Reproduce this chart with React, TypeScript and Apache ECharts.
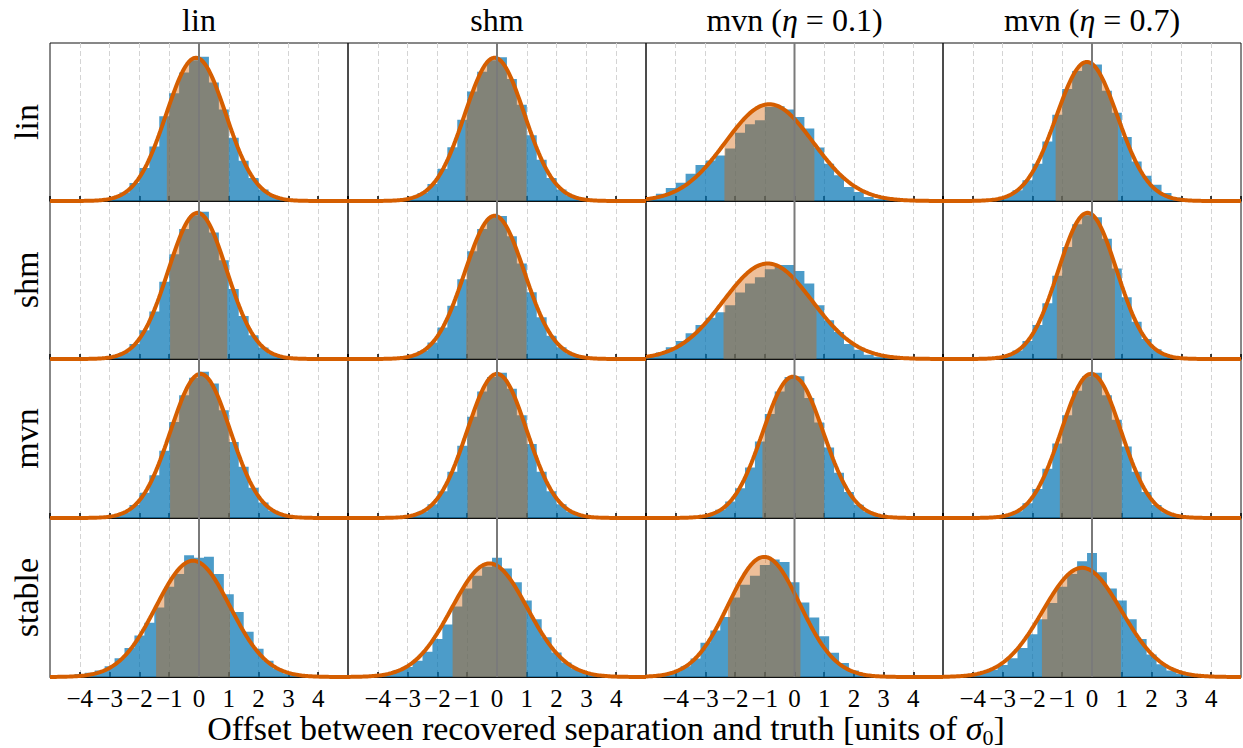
import React, { useEffect, useRef } from "react";
import * as echarts from "echarts";

// ---------- data ----------
const rowNames = ["lin", "shm", "mvn", "stable"];
const colNames = ["lin", "shm", "mvn ({i|η}\u2005=\u20050.1)", "mvn ({i|η}\u2005=\u20050.7)"];
const binWidth = 1 / 3;
const binStart = [
  [-5, -5, -5, -5],
  [-5, -5, -5, -5],
  [-5, -5, -5, -5],
  [-31 / 6, -31 / 6, -31 / 6, -31 / 6],
];
// fitted normal curve per panel
const fitMu = [
  [-0.1, -0.08, -0.85, -0.17],
  [-0.05, -0.08, -0.9, -0.15],
  [0.05, 0.0, -0.05, -0.03],
  [-0.2, -0.25, -1.02, -0.33],
];
const fitSigma = [
  [1.0, 1.0, 1.48, 1.03],
  [0.98, 1.0, 1.5, 0.98],
  [1.0, 1.0, 1.02, 1.0],
  [1.24, 1.27, 1.2, 1.32],
];
// shaded interval per panel
const bandLo = [
  [-1.08, -1.06, -2.36, -1.22],
  [-0.97, -1.03, -2.39, -1.18],
  [-0.97, -0.99, -1.08, -1.08],
  [-1.44, -1.49, -2.24, -1.68],
];
const bandHi = [
  [1.0, 0.99, 0.67, 0.87],
  [0.95, 0.99, 0.74, 0.77],
  [1.04, 1.03, 1.0, 1.0],
  [1.04, 0.99, 0.2, 0.97],
];

// histogram densities
const histLinLin = [0,0,0,0.001,0.002,0.004,0.011,0.024,0.05,0.092,0.152,0.236,0.300,0.358,0.392,0.402,0.330,0.255,0.176,0.112,0.064,0.032,0.014,0.006,0.002,0.001,0,0,0,0];
const histLinShm = [0,0,0,0.001,0.002,0.004,0.010,0.022,0.047,0.090,0.150,0.226,0.305,0.360,0.392,0.400,0.340,0.268,0.183,0.115,0.064,0.032,0.015,0.006,0.002,0.001,0,0,0,0];
const histLinMvn1 = [0.0065,0.020,0.036,0.051,0.076,0.100,0.113,0.127,0.146,0.190,0.214,0.225,0.262,0.264,0.255,0.234,0.202,0.149,0.104,0.072,0.039,0.025,0.011,0.0056,0.003,0.001,0,0,0,0];
const histLinMvn7 = [0,0,0,0.001,0.002,0.006,0.014,0.030,0.058,0.104,0.166,0.240,0.312,0.362,0.390,0.380,0.307,0.246,0.178,0.110,0.070,0.045,0.022,0.010,0.004,0.001,0,0,0,0];
const histShmLin = [0,0,0,0,0.001,0.003,0.008,0.019,0.042,0.080,0.132,0.215,0.292,0.362,0.400,0.410,0.352,0.275,0.195,0.120,0.066,0.032,0.014,0.006,0.002,0.001,0,0,0,0];
const histShmShm = [0,0,0,0.001,0.002,0.004,0.010,0.022,0.046,0.088,0.148,0.222,0.300,0.362,0.395,0.398,0.342,0.266,0.186,0.116,0.065,0.033,0.015,0.006,0.002,0.001,0,0,0,0];
const histShmMvn1 = [0.006,0.018,0.033,0.050,0.072,0.095,0.115,0.130,0.150,0.185,0.210,0.228,0.250,0.262,0.262,0.245,0.210,0.150,0.108,0.075,0.042,0.026,0.012,0.006,0.003,0.001,0,0,0,0];
const histShmMvn7 = [0,0,0,0.001,0.002,0.004,0.010,0.024,0.050,0.095,0.155,0.232,0.312,0.375,0.400,0.395,0.335,0.252,0.172,0.104,0.056,0.027,0.011,0.004,0.002,0.001,0,0,0,0];
const histMvnLin = [0,0,0,0,0.001,0.002,0.007,0.016,0.036,0.070,0.118,0.186,0.266,0.340,0.388,0.405,0.372,0.298,0.210,0.142,0.084,0.043,0.020,0.008,0.003,0.001,0,0,0,0];
const histMvnShm = [0,0,0,0,0.001,0.003,0.008,0.018,0.038,0.074,0.128,0.200,0.280,0.350,0.390,0.402,0.358,0.284,0.205,0.128,0.074,0.038,0.017,0.007,0.003,0.001,0,0,0,0];
const histMvnMvn1 = [0,0,0,0,0.001,0.004,0.010,0.023,0.046,0.082,0.140,0.212,0.288,0.350,0.390,0.392,0.332,0.264,0.195,0.125,0.072,0.037,0.017,0.007,0.003,0.001,0,0,0,0];
const histMvnMvn7 = [0,0,0,0,0.001,0.003,0.008,0.019,0.041,0.080,0.136,0.206,0.284,0.352,0.392,0.402,0.340,0.272,0.198,0.128,0.072,0.036,0.016,0.007,0.002,0.001,0,0,0,0];
const histStableLin = [0,0.002,0.005,0.008,0.012,0.018,0.030,0.052,0.080,0.115,0.150,0.192,0.250,0.285,0.337,0.330,0.333,0.285,0.229,0.180,0.125,0.078,0.045,0.022,0.010,0.005,0.002,0.001,0,0,0];
const histStableShm = [0,0.002,0.004,0.007,0.011,0.018,0.028,0.045,0.070,0.105,0.145,0.195,0.245,0.280,0.305,0.330,0.300,0.262,0.212,0.160,0.110,0.068,0.040,0.022,0.011,0.005,0.002,0.001,0,0,0];
const histStableMvn1 = [0.002,0.004,0.008,0.016,0.030,0.051,0.095,0.129,0.166,0.220,0.255,0.280,0.310,0.325,0.318,0.262,0.206,0.165,0.113,0.067,0.039,0.018,0.008,0.003,0.001,0,0,0,0,0,0];
const histStableMvn7 = [0,0.002,0.004,0.007,0.012,0.020,0.033,0.052,0.080,0.118,0.160,0.205,0.250,0.285,0.320,0.343,0.290,0.245,0.212,0.160,0.105,0.062,0.035,0.018,0.009,0.004,0.002,0.001,0,0,0];

const hists = [
  [histLinLin, histLinShm, histLinMvn1, histLinMvn7],
  [histShmLin, histShmShm, histShmMvn1, histShmMvn7],
  [histMvnLin, histMvnShm, histMvnMvn1, histMvnMvn7],
  [histStableLin, histStableShm, histStableMvn1, histStableMvn7],
];

const X_MIN = -5;
const X_MAX = 5;
const Y_MAX = 0.44;

// ---------- layout ----------
const FONT = "'Liberation Serif', 'Times New Roman', serif";
const COL_EDGES = [50, 348, 646, 943, 1241];
const ROW_EDGES = [43, 201, 359, 518, 677];

function normalPdf(x: number, mu: number, s: number) {
  return Math.exp(-((x - mu) * (x - mu)) / (2 * s * s)) / (s * Math.sqrt(2 * Math.PI));
}

function buildOption() {
  const grid: any[] = [];
  const xAxis: any[] = [];
  const yAxis: any[] = [];
  const series: any[] = [];
  for (let r = 0; r < 4; r++) {
    for (let c = 0; c < 4; c++) {
      const i = r * 4 + c;
      grid.push({
        left: COL_EDGES[c],
        top: ROW_EDGES[r],
        width: COL_EDGES[c + 1] - COL_EDGES[c],
        height: ROW_EDGES[r + 1] - ROW_EDGES[r],
        show: true,
        borderColor: "#111",
        borderWidth: 1,
        backgroundColor: "transparent",
      });
      xAxis.push({
        type: "value",
        gridIndex: i,
        min: X_MIN,
        max: X_MAX,
        interval: 1,
        axisLine: { show: true, onZero: false, lineStyle: { color: "#111", width: 1 } },
        axisTick: { show: true, inside: true, length: 5, lineStyle: { color: "#000", width: 1.5 } },
        axisLabel: {
          show: r === 3,
          margin: 9,
          fontFamily: FONT,
          fontSize: 25,
          color: "#000",
          showMinLabel: false,
          showMaxLabel: false,
          formatter: (v: number) => String(v).replace("-", "\u2212"),
        },
        splitLine: {
          show: true,
          showMinLine: false,
          showMaxLine: false,
          lineStyle: { color: "#d4d4d4", type: [5, 3], width: 1 },
        },
      });
      yAxis.push({ type: "value", gridIndex: i, min: 0, max: Y_MAX, show: false });

      // histogram as step area
      const h = hists[r][c];
      const start = binStart[r][c];
      const stepData: number[][] = h.map((v, k) => [start + k * binWidth, v]);
      stepData.push([start + h.length * binWidth, h[h.length - 1]]);
      series.push({
        type: "line",
        xAxisIndex: i,
        yAxisIndex: i,
        step: "end",
        data: stepData,
        symbol: "none",
        lineStyle: { width: 0, opacity: 0 },
        areaStyle: { color: "rgba(0,114,178,0.7)", opacity: 1 },
        z: 2,
        silent: true,
      });

      const mu = fitMu[r][c];
      const sg = fitSigma[r][c];
      // shaded band
      const lo = bandLo[r][c];
      const hi = bandHi[r][c];
      const band: number[][] = [];
      const nb = 80;
      for (let k = 0; k <= nb; k++) {
        const x = lo + ((hi - lo) * k) / nb;
        band.push([x, normalPdf(x, mu, sg)]);
      }
      series.push({
        type: "line",
        xAxisIndex: i,
        yAxisIndex: i,
        data: band,
        symbol: "none",
        lineStyle: { width: 0, opacity: 0 },
        areaStyle: { color: "rgba(213,94,0,0.4)", opacity: 1 },
        z: 3,
        silent: true,
      });
      // fitted curve
      const curve: number[][] = [];
      const nc = 200;
      for (let k = 0; k <= nc; k++) {
        const x = X_MIN + ((X_MAX - X_MIN) * k) / nc;
        curve.push([x, normalPdf(x, mu, sg)]);
      }
      series.push({
        type: "line",
        xAxisIndex: i,
        yAxisIndex: i,
        data: curve,
        symbol: "none",
        clip: false,
        lineStyle: { color: "#D55E00", width: 4 },
        z: 4,
        silent: true,
      });
      // zero line
      series.push({
        type: "line",
        xAxisIndex: i,
        yAxisIndex: i,
        data: [
          [0, 0],
          [0, Y_MAX],
        ],
        symbol: "none",
        lineStyle: { color: "#7a7a7a", width: 2 },
        z: 5,
        silent: true,
      });
    }
  }

  const graphic: any[] = [];
  colNames.forEach((t, c) => {
    graphic.push({
      type: "text",
      x: (COL_EDGES[c] + COL_EDGES[c + 1]) / 2,
      y: 20,
      style: {
        text: t,
        fontFamily: FONT,
        fontSize: 32,
        fill: "#000",
        align: "center",
        verticalAlign: "middle",
        rich: { i: { fontFamily: FONT, fontSize: 32, fontStyle: "italic", fill: "#000" } },
      },
    });
  });
  rowNames.forEach((t, r) => {
    graphic.push({
      type: "text",
      x: 26,
      y: (ROW_EDGES[r] + ROW_EDGES[r + 1]) / 2,
      rotation: Math.PI / 2,
      style: {
        text: t,
        fontFamily: FONT,
        fontSize: 34,
        fill: "#000",
        align: "center",
        verticalAlign: "middle",
      },
    });
  });
  graphic.push({
    type: "text",
    x: 606,
    y: 728,
    style: {
      text: "{m|Offset between recovered separation and truth [units of }{i|σ}{s|0}{m|]}",
      fill: "#000",
      align: "center",
      verticalAlign: "middle",
      rich: {
        m: { fontFamily: FONT, fontSize: 34, lineHeight: 40, verticalAlign: "middle", fill: "#000" },
        i: { fontFamily: FONT, fontSize: 34, lineHeight: 40, fontStyle: "italic", verticalAlign: "middle", fill: "#000" },
        s: { fontFamily: FONT, fontSize: 22, lineHeight: 20, verticalAlign: "bottom", fill: "#000" },
      },
    },
  });

  return {
    animation: false,
    backgroundColor: "#fff",
    grid,
    xAxis,
    yAxis,
    series,
    graphic,
  };
}

export default function App() {
  const ref = useRef<HTMLDivElement>(null);
  useEffect(() => {
    if (!ref.current) return;
    const chart = echarts.init(ref.current, undefined, { renderer: "svg" });
    chart.setOption(buildOption() as any);
    return () => chart.dispose();
  }, []);
  return (
    <div
      ref={ref}
      style={{ position: "absolute", left: 0, top: 0, width: 1243, height: 748 }}
    />
  );
}
